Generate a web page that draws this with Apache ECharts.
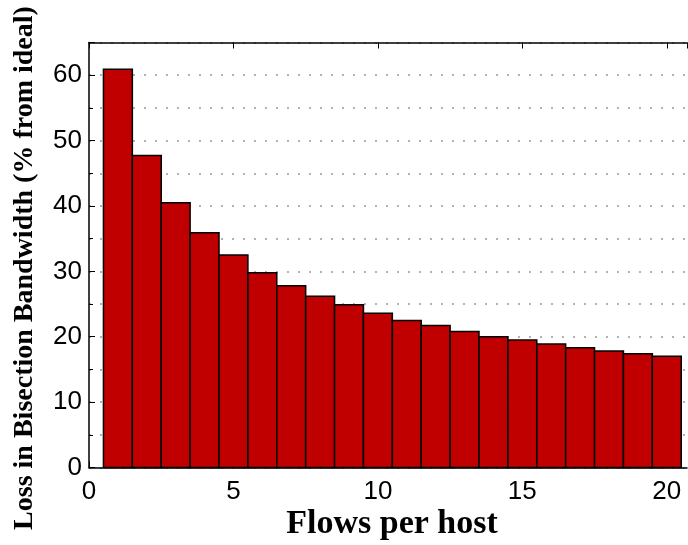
<!DOCTYPE html>
<html><head><meta charset="utf-8">
<script src="https://cdn.jsdelivr.net/npm/echarts@6/dist/echarts.min.js"></script>
<style>html,body{margin:0;padding:0;background:#fff}#c{width:688px;height:545px}</style>
</head><body><div id="c"></div>
<script>
const flows = [1,2,3,4,5,6,7,8,9,10,11,12,13,14,15,16,17,18,19,20];
const loss = [60.9,47.7,40.5,35.9,32.5,29.8,27.8,26.2,24.9,23.6,22.5,21.7,20.8,20.0,19.5,18.9,18.3,17.8,17.4,17.0];
const xTicks = [0,5,10,15,20];
const yTicks = [0,10,20,30,40,50,60];
const xTitle = 'Flows per host';
const yTitle = 'Loss in Bisection Bandwidth (% from ideal)';

const chart = echarts.init(document.getElementById('c'), null, {renderer:'canvas'});
const tickFont = {fontFamily:'Liberation Sans', fontSize:26, color:'#000'};
const axisLine = {show:true, onZero:false, lineStyle:{color:'#000', width:1.5}};
const dotted = {show:true, lineStyle:{color:'#999', width:1.5, type:[2,9]}};
chart.setOption({
  animation:false,
  grid:{left:89, top:42.5, right:1, bottom:77.5, containLabel:false},
  xAxis:[
    {type:'value', min:0, max:20.7, interval:5, position:'bottom',
     axisLine:axisLine, axisTick:{show:true, inside:true, length:6, lineStyle:{color:'#000'}},
     axisLabel:Object.assign({margin:11, showMaxLabel:false, formatter:v=>xTicks.includes(v)?String(v):''}, tickFont),
     splitLine:{show:false}},
    {type:'value', min:0, max:20.7, interval:5, position:'top',
     axisLine:axisLine, axisTick:{show:true, inside:true, length:6, lineStyle:{color:'#000'}},
     axisLabel:{show:false}, splitLine:{show:false}}
  ],
  yAxis:[
    {type:'value', min:0, max:65, interval:10, position:'left',
     axisLine:axisLine, axisTick:{show:true, inside:true, length:6, lineStyle:{color:'#000'}},
     minorTick:{show:true, splitNumber:2, length:4, lineStyle:{color:'#000'}},
     axisLabel:Object.assign({margin:7, showMaxLabel:false, formatter:v=>yTicks.includes(v)?String(v):''}, tickFont),
     splitLine:dotted, minorSplitLine:dotted}
  ],
  series:[{
    type:'custom',
    xAxisIndex:0, yAxisIndex:0,
    data: flows.map((f,i)=>[f, loss[i]]),
    renderItem:function(params, api){
      const x = api.value(0), y = api.value(1);
      const p0 = api.coord([x-0.5, y]);
      const p1 = api.coord([x+0.5, 0]);
      return {type:'rect', shape:{x:p0[0], y:p0[1], width:p1[0]-p0[0], height:p1[1]-p0[1]},
        style:{fill:'#C00000', stroke:'#000', lineWidth:1.5}};
    }
  }],
  graphic:[
    {type:'text', x:392, y:524,
     style:{text:xTitle, font:'bold 34px "Liberation Serif"', fill:'#000', align:'center', verticalAlign:'middle'}},
    {type:'text', rotation:Math.PI/2, x:25, y:268,
     style:{text:yTitle, font:'bold 28px "Liberation Serif"', fill:'#000', align:'center', verticalAlign:'middle'}}
  ]
});
</script></body></html>
